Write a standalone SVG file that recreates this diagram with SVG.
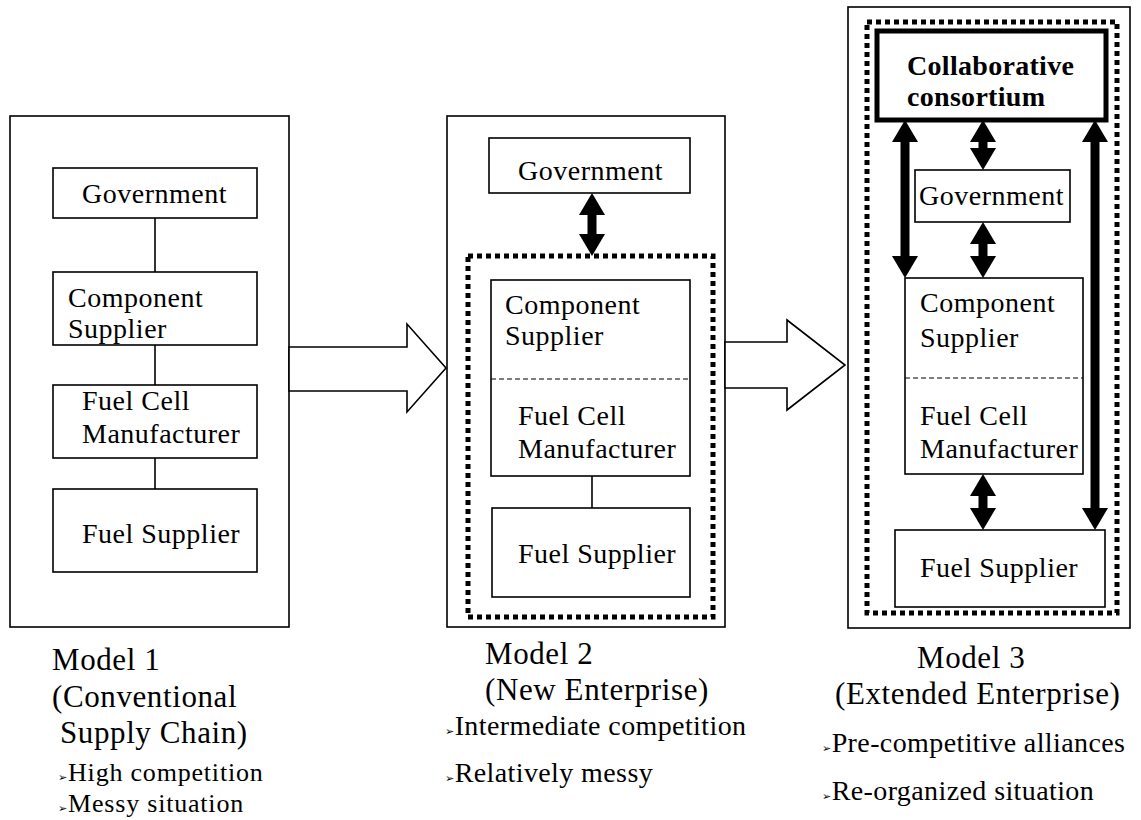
<svg xmlns="http://www.w3.org/2000/svg" width="1141" height="820" viewBox="0 0 1141 820">
<defs>
<style>
.box{fill:#fff;stroke:#000;stroke-width:1.6}
.frame{fill:#fff;stroke:#000;stroke-width:1.6}
.dots{fill:none;stroke:#000;stroke-width:5;stroke-dasharray:5 4}
.dash{stroke:#000;stroke-width:1.2;stroke-dasharray:5 3}
.ln{stroke:#000;stroke-width:1.6}
.dbl{stroke:#000;stroke-width:9;marker-start:url(#ah);marker-end:url(#ah)}
.blk{fill:#fff;stroke:#000;stroke-width:1.6;stroke-linejoin:miter}
.t{font-family:"Liberation Serif","Times New Roman",serif;font-size:28px;letter-spacing:0.5px;fill:#000}
.b{font-weight:bold;letter-spacing:0.3px}
.cap{font-family:"Liberation Serif","Times New Roman",serif;font-size:31px;letter-spacing:0.6px;fill:#000}
.bul{font-family:"Liberation Serif","Times New Roman",serif;font-size:28px;letter-spacing:0.4px;fill:#000}
.s{font-size:26px;letter-spacing:0.8px}
.g{font-family:"DejaVu Sans",sans-serif;font-size:11px}
</style>
<marker id="ah" markerUnits="userSpaceOnUse" markerWidth="22" markerHeight="26" refX="0" refY="13" orient="auto-start-reverse">
<path d="M0,0 L22,13 L0,26 z" fill="#000"/>
</marker>
</defs>

<g id="model1">
<rect class="frame" x="10" y="116" width="279" height="511"/>
</g>
<g id="model2">
<rect class="frame" x="447" y="116" width="278" height="511"/>
<rect class="dots" x="468" y="256" width="245" height="361"/>
</g>
<g id="model3">
<rect class="frame" x="848" y="7" width="282" height="621"/>
<rect class="dots" x="867" y="22" width="250" height="591"/>
</g>

<g id="connectors">
<line class="ln" x1="155" y1="218" x2="155" y2="272"/>
<line class="ln" x1="155" y1="345" x2="155" y2="385"/>
<line class="ln" x1="155" y1="458" x2="155" y2="489"/>
<line class="dbl" x1="592" y1="215" x2="592" y2="234"/>
<line class="ln" x1="592" y1="476" x2="592" y2="508"/>
<line class="dbl" x1="905" y1="142" x2="905" y2="256"/>
<line class="dbl" x1="983" y1="142" x2="983" y2="148"/>
<line class="dbl" x1="983" y1="244" x2="983" y2="256"/>
<line class="dbl" x1="983" y1="496" x2="983" y2="508"/>
<line class="dbl" x1="1095" y1="142" x2="1095" y2="508"/>
<polygon class="blk" points="289,347 407,347 407,324 446,368 407,412 407,391 289,391"/>
<polygon class="blk" points="725,342 787,342 787,320 845,365 787,410 787,388 725,388"/>
</g>

<g id="m1-government">
<rect class="box" x="53" y="168" width="204" height="50"/>
<text class="t" x="82" y="203">Government</text>
</g>
<g id="m1-component">
<rect class="box" x="53" y="272" width="204" height="73"/>
<text class="t" x="68" y="307">Component</text>
<text class="t" x="68" y="338">Supplier</text>
</g>
<g id="m1-fuelcell">
<rect class="box" x="53" y="385" width="204" height="73"/>
<text class="t" x="82" y="410">Fuel Cell</text>
<text class="t" x="82" y="443">Manufacturer</text>
</g>
<g id="m1-fuelsupplier">
<rect class="box" x="53" y="489" width="204" height="83"/>
<text class="t" x="82" y="543">Fuel Supplier</text>
</g>

<g id="m2-government">
<rect class="box" x="489" y="138" width="201" height="55"/>
<text class="t" x="518" y="180">Government</text>
</g>
<g id="m2-component-fuelcell">
<rect class="box" x="491" y="280" width="199" height="196"/>
<line class="dash" x1="491" y1="379" x2="690" y2="379"/>
<text class="t" x="505" y="314">Component</text>
<text class="t" x="505" y="345">Supplier</text>
<text class="t" x="518" y="425">Fuel Cell</text>
<text class="t" x="518" y="458">Manufacturer</text>
</g>
<g id="m2-fuelsupplier">
<rect class="box" x="492" y="508" width="198" height="89"/>
<text class="t" x="518" y="563">Fuel Supplier</text>
</g>

<g id="m3-consortium">
<rect x="877" y="31" width="229" height="89" fill="#fff" stroke="#000" stroke-width="5"/>
<text class="t b" x="907" y="75">Collaborative</text>
<text class="t b" x="907" y="106">consortium</text>
</g>
<g id="m3-government">
<rect class="box" x="915" y="170" width="155" height="52"/>
<text class="t" x="919" y="205">Government</text>
</g>
<g id="m3-component-fuelcell">
<rect class="box" x="905" y="278" width="178" height="196"/>
<line class="dash" x1="905" y1="378" x2="1083" y2="378"/>
<text class="t" x="920" y="312">Component</text>
<text class="t" x="920" y="347">Supplier</text>
<text class="t" x="920" y="425">Fuel Cell</text>
<text class="t" x="920" y="458">Manufacturer</text>
</g>
<g id="m3-fuelsupplier">
<rect class="box" x="895" y="530" width="210" height="77"/>
<text class="t" x="920" y="577">Fuel Supplier</text>
</g>

<g id="labels">
<text class="cap" x="52" y="670">Model 1</text>
<text class="cap" x="52" y="707">(Conventional</text>
<text class="cap" x="60" y="743">Supply Chain)</text>
<text class="bul s" x="58" y="781"><tspan class="g">➢</tspan>High competition</text>
<text class="bul s" x="58" y="812"><tspan class="g">➢</tspan>Messy situation</text>

<text class="cap" x="485" y="664">Model 2</text>
<text class="cap" x="485" y="700">(New Enterprise)</text>
<text class="bul" x="445" y="735"><tspan class="g">➢</tspan>Intermediate competition</text>
<text class="bul" x="445" y="782"><tspan class="g">➢</tspan>Relatively messy</text>

<text class="cap" x="917" y="668">Model 3</text>
<text class="cap" x="835" y="704">(Extended Enterprise)</text>
<text class="bul" x="822" y="752"><tspan class="g">➢</tspan>Pre-competitive alliances</text>
<text class="bul" x="822" y="800"><tspan class="g">➢</tspan>Re-organized situation</text>
</g>
</svg>
